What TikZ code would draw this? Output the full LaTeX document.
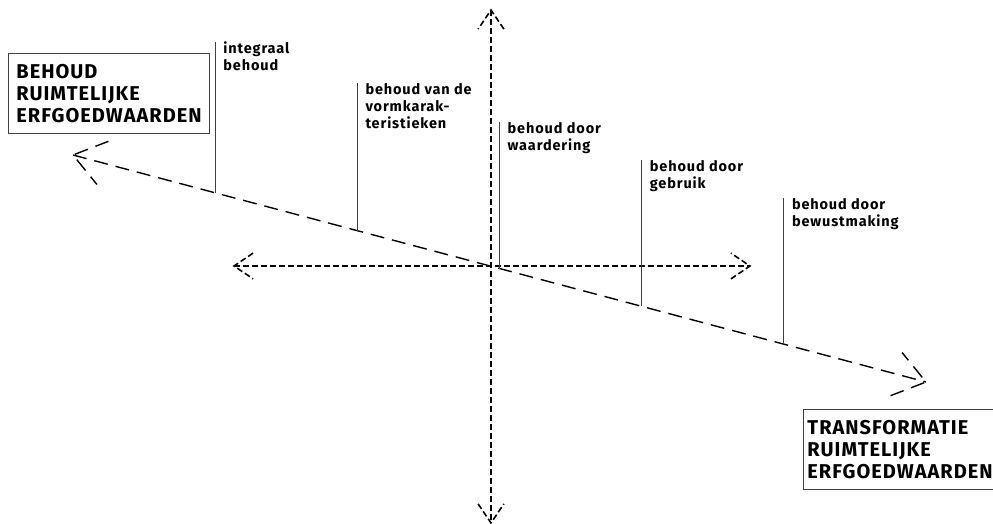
\documentclass[tikz,border=0pt]{standalone}
\usepackage{fontspec}
\setmainfont{Fira Sans}
\newfontfamily\lblfont[LetterSpace=6]{Fira Sans}
\newfontfamily\polefont[LetterSpace=5]{Fira Sans}
\usetikzlibrary{calc}

\begin{document}
\begin{tikzpicture}[
  x=1pt, y=-1pt,
  axis/.style={line width=1.6pt, dash pattern=on 6pt off 3pt},
  diag/.style={line width=1.4pt, dash pattern=on 14pt off 8pt},
  tick/.style={line width=0.9pt, black!75},
  lbl/.style={font=\lblfont\bfseries\fontsize{14.5}{17}\selectfont, align=left, anchor=north west, inner sep=0pt},
  pole/.style={draw=black!75, line width=0.9pt, font=\polefont\bfseries\fontsize{20}{22}\selectfont, align=left, anchor=north west, minimum height=80pt}
]
  \clip (0,0) rectangle (993,524);

  % ends of the axes
  \coordinate (top) at (491,10);
  \coordinate (bot) at (491,523);
  \coordinate (lt) at (234,266);
  \coordinate (rt) at (750,266);
  \coordinate (nw) at (73,155);
  \coordinate (se) at (926,382);

  % cross
  \draw[axis] (top) -- (bot);
  \draw[axis] (lt) -- (rt);
  \draw[axis] ($(top)!23pt!34:(bot)$) -- (top) -- ($(top)!23pt!-34:(bot)$);
  \draw[axis] ($(bot)!23pt!34:(top)$) -- (bot) -- ($(bot)!23pt!-34:(top)$);
  \draw[axis] ($(lt)!23pt!34:(rt)$) -- (lt) -- ($(lt)!23pt!-34:(rt)$);
  \draw[axis] ($(rt)!23pt!34:(lt)$) -- (rt) -- ($(rt)!23pt!-34:(lt)$);

  % diagonal
  \draw[diag] (nw) -- (se);
  \draw[diag] ($(nw)!38pt!36:(se)$) -- (nw) -- ($(nw)!38pt!-36:(se)$);
  \draw[diag] ($(se)!38pt!36:(nw)$) -- (se) -- ($(se)!38pt!-36:(nw)$);

  % steps along the diagonal
  \coordinate (p1) at ($(nw)!0.1667!(se)$);
  \coordinate (p2) at ($(nw)!0.3333!(se)$);
  \coordinate (p3) at ($(nw)!0.5!(se)$);
  \coordinate (p4) at ($(nw)!0.6667!(se)$);
  \coordinate (p5) at ($(nw)!0.8333!(se)$);
  \coordinate (t1) at (p1 |- 0,42);
  \coordinate (t2) at (p2 |- 0,83);
  \coordinate (t3) at (p3 |- 0,122);
  \coordinate (t4) at (p4 |- 0,160);
  \coordinate (t5) at (p5 |- 0,198);

  \draw[tick] (p1) -- (t1);
  \draw[tick] (p2) -- (t2);
  \draw[tick] (p3) -- (t3);
  \draw[tick] (p4) -- (t4);
  \draw[tick] (p5) -- (t5);

  \node[lbl] (l1) at ([xshift=8pt]t1) {integraal\\behoud};
  \node[lbl] (l2) at ([xshift=8pt]t2) {behoud van de\\vormkarak-\\teristieken};
  \node[lbl] (l3) at ([xshift=8pt]t3) {behoud door\\waardering};
  \node[lbl] (l4) at ([xshift=8pt]t4) {behoud door\\gebruik};
  \node[lbl] (l5) at ([xshift=8pt]t5) {behoud door\\bewustmaking};

  % the two poles
  \node[pole, inner xsep=8pt, inner ysep=6pt] (behoud) at (8,53)
    {BEHOUD\\RUIMTELIJKE\\ERFGOEDWAARDEN};
  \node[pole, inner xsep=4pt, inner ysep=6pt, text width=200pt] (transf) at (803,409)
    {TRANSFORMATIE\\RUIMTELIJKE\\ERFGOEDWAARDEN};
\end{tikzpicture}
\end{document}
